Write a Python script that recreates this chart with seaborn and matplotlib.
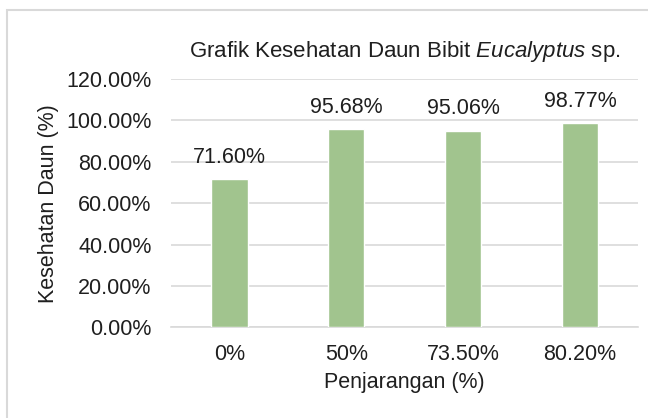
import matplotlib
matplotlib.use("Agg")
import matplotlib.pyplot as plt
import pandas as pd
import seaborn as sns
from matplotlib.patches import Rectangle
from matplotlib.ticker import FuncFormatter

# Data
categories = ["0%", "50%", "73.50%", "80.20%"]
health = [71.60, 95.68, 95.06, 98.77]

BAR_COLOR = "#a1c48e"
GRID_COLOR = "#d9d9d9"
TEXT_COLOR = "#1f1f1f"
FS = 15.5

sns.set_theme(style="white")
plt.rcParams["font.family"] = ["Liberation Sans", "DejaVu Sans"]
plt.rcParams["mathtext.fontset"] = "custom"
plt.rcParams["mathtext.rm"] = "Liberation Sans"
plt.rcParams["mathtext.it"] = "Liberation Sans:italic"

df = pd.DataFrame({"penjarangan": categories, "kesehatan": health})

fig = plt.figure(figsize=(6.48, 4.18), dpi=100)
ax = fig.add_axes([0.264, 0.217, 0.721, 0.594])

# light chart-area border like the spreadsheet frame
fig.patches.append(Rectangle((7 / 648, -0.1), 1.1, 1 - 10 / 418 + 0.1,
                             transform=fig.transFigure, fill=False,
                             edgecolor=GRID_COLOR, linewidth=1.5))

sns.barplot(data=df, x="penjarangan", y="kesehatan", color=BAR_COLOR,
            width=0.31, saturation=1, ax=ax, zorder=3)

for p, v in zip(ax.patches, health):
    ax.annotate(f"{v:.2f}%", (p.get_x() + p.get_width() / 2, p.get_height()),
                xytext=(0, 8), textcoords="offset points", ha="center",
                va="bottom", fontsize=FS, color=TEXT_COLOR)

ax.set_ylim(0, 120)
ax.set_yticks(range(0, 121, 20))
ax.yaxis.set_major_formatter(FuncFormatter(lambda v, _: f"{v:.2f}%"))
ax.grid(axis="y", color=GRID_COLOR, linewidth=1.2, zorder=0)
for s in ["top", "right", "left"]:
    ax.spines[s].set_visible(False)
ax.spines["bottom"].set_color(GRID_COLOR)
ax.spines["bottom"].set_linewidth(1.2)
ax.tick_params(axis="both", length=0, labelsize=FS, colors=TEXT_COLOR)
ax.tick_params(axis="y", pad=14)
ax.tick_params(axis="x", pad=12)

ax.set_title(r"Grafik Kesehatan Daun Bibit $\mathit{Eucalyptus}$ sp.",
             fontsize=16, color=TEXT_COLOR, pad=16)
ax.set_xlabel("Penjarangan (%)", fontsize=FS, color=TEXT_COLOR, labelpad=5)
ax.set_ylabel("Kesehatan Daun (%)", fontsize=FS, color=TEXT_COLOR, labelpad=5)

fig.savefig("out.png", dpi=100)
